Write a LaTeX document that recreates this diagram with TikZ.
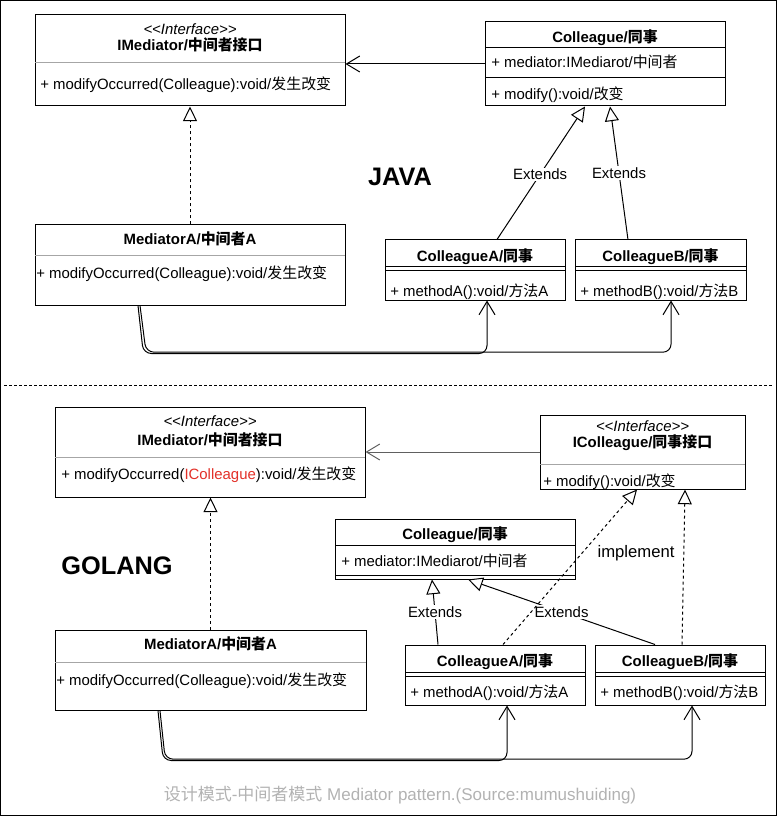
\documentclass[tikz,border=0pt]{standalone}
\usepackage{fontspec}
\setmainfont{Liberation Sans}
\newfontfamily\cjk{Noto Sans CJK SC}
\newcommand{\zh}[1]{{\cjk #1}}
\usepackage{tikz}
\usetikzlibrary{arrows.meta, fit}
\definecolor{typered}{RGB}{226,48,40}
\tikzstyle{classbox} = [draw=black, line width=0.75pt, inner sep=0pt]
\tikzstyle{boxtitle} = [font=\fontsize{11.2}{13}\selectfont\bfseries,
inner sep=0pt, 
text height=8.5pt, 
text depth=1.5pt]
\tikzstyle{stereo} = [font=\fontsize{11.2}{13}\selectfont\itshape,
inner sep=0pt, 
text height=8.5pt, 
text depth=1.5pt]
\tikzstyle{member} = [font=\fontsize{11.2}{13}\selectfont, anchor=west,
inner sep=0pt, 
text height=8.5pt, 
text depth=1.5pt]
\tikzstyle{sepline} = [draw=gray!70, line width=0.75pt]
\tikzstyle{rowline} = [draw=black, line width=0.75pt]
\tikzstyle{assoc} = [line width=0.75pt,-{Straight Barb[length=10pt,width=12pt]}]
\tikzstyle{inherit} = [line width=0.75pt,-{Triangle[fill=white,length=11pt,width=10.5pt]}]
\tikzstyle{realize} = [inherit, dash pattern=on 2.25pt off 2.25pt]
\tikzstyle{extlabel} = [fill=white, inner sep=1pt, font=\fontsize{11.2}{13}\selectfont]
\tikzstyle{langlabel} = [font=\fontsize{19}{22}\selectfont\bfseries]

\begin{document}
\begin{tikzpicture}[x=0.75pt, y=-0.75pt]
        \useasboundingbox (0,0) rectangle (777,816);
        \draw [line width=0.75pt] (0.5,0.5) rectangle (776.5,815.5);

        % JAVA
        \node (jim) [classbox, fit={(35,15) (345,106)}] {};
        \node (jimst) [stereo] at (190,30) {<{}<Interface>{}>};
        \node (jimt) [boxtitle] at (190,46) {IMediator/\zh{中间者接口}};
        \draw [sepline] (35,63) -- (345,63);
        \node (jimm) [member] at (40,85) {+ modifyOccurred(Colleague):void/\zh{发生改变}};

        \node (jcol) [classbox, fit={(485,22) (725,106)}] {};
        \node (jcolt) [boxtitle] at (605,38) {Colleague/\zh{同事}};
        \draw [rowline] (485,48) -- (725,48);
        \node (jcolf) [member] at (491,63) {+ mediator:IMediarot/\zh{中间者}};
        \draw [rowline] (485,78) -- (725,78);
        \node (jcolm) [member] at (491,95) {+ modify():void/\zh{改变}};

        \node (jma) [classbox, fit={(35,225) (345,305)}] {};
        \node (jmat) [boxtitle] at (190,240) {MediatorA/\zh{中间者}A};
        \draw [sepline] (35,256) -- (345,256);
        \node (jmam) [member] at (36,274) {+ modifyOccurred(Colleague):void/\zh{发生改变}};

        \node (jca) [classbox, fit={(385,240) (565,300)}] {};
        \node (jcat) [boxtitle] at (475,257) {ColleagueA/\zh{同事}};
        \draw [rowline] (385,267) -- (565,267);
        \draw [rowline] (385,271) -- (565,271);
        \node (jcam) [member] at (390,292) {+ methodA():void/\zh{方法}A};

        \node (jcb) [classbox, fit={(575,240) (746,300)}] {};
        \node (jcbt) [boxtitle] at (660.5,257) {ColleagueB/\zh{同事}};
        \draw [rowline] (575,267) -- (746,267);
        \draw [rowline] (575,271) -- (746,271);
        \node (jcbm) [member] at (580,292) {+ methodB():void/\zh{方法}B};

        \node (java) [langlabel] at (400,177) {JAVA};

        \draw [assoc] (jcol.west) -- (jcol.west -| jim.east);
        \draw [realize] (jma.north) -- (jim.south);
        \draw [inherit] ([xshift=16.5pt]jca.north) -- node[extlabel, pos=0.49] {Extends} ([xshift=-15pt]jcol.south);
        \draw [inherit] ([xshift=-24.4pt]jcb.north) -- node[extlabel, pos=0.5] {Extends} ([xshift=3.75pt]jcol.south);
        \draw [assoc, rounded corners=6pt] ([xshift=-39pt]jma.south) -- ([xshift=-35pt, yshift=-36pt]jma.south) -| ([xshift=9pt]jca.south);
        \draw [assoc, rounded corners=6pt] ([xshift=-37.5pt]jma.south) -- ([xshift=-33pt, yshift=-35pt]jma.south) -| ([xshift=7.9pt]jcb.south);

        \draw [line width=0.75pt, dash pattern=on 2.25pt off 1.5pt] (4,385) -- (773,385);

        % GOLANG
        \node (gim) [classbox, fit={(55,407) (365,497)}] {};
        \node (gimst) [stereo] at (210,422) {<{}<Interface>{}>};
        \node (gimt) [boxtitle] at (210,441) {IMediator/\zh{中间者接口}};
        \draw [sepline] (55,457) -- (365,457);
        \node (gimm) [member] at (61,475) {+ modifyOccurred(\textcolor{typered}{IColleague}):void/\zh{发生改变}};

        \node (gic) [classbox, fit={(540,415) (745,489)}] {};
        \node (gicst) [stereo] at (642.5,427) {<{}<Interface>{}>};
        \node (gict) [boxtitle] at (642.5,443) {IColleague/\zh{同事接口}};
        \draw [sepline] (540,464) -- (745,464);
        \node (gicm) [member] at (543,482) {+ modify():void/\zh{改变}};

        \node (gcol) [classbox, fit={(335,519) (575,579)}] {};
        \node (gcolt) [boxtitle] at (455,535) {Colleague/\zh{同事}};
        \draw [rowline] (335,545) -- (575,545);
        \node (gcolf) [member] at (341,562) {+ mediator:IMediarot/\zh{中间者}};
        \draw [rowline] (335,575) -- (575,575);

        \node (gma) [classbox, fit={(55,630) (366,710)}] {};
        \node (gmat) [boxtitle] at (210.5,645) {MediatorA/\zh{中间者}A};
        \draw [sepline] (55,662) -- (366,662);
        \node (gmam) [member] at (56,681) {+ modifyOccurred(Colleague):void/\zh{发生改变}};

        \node (gca) [classbox, fit={(405,645) (585,705)}] {};
        \node (gcat) [boxtitle] at (495,662) {ColleagueA/\zh{同事}};
        \draw [rowline] (405,672) -- (585,672);
        \draw [rowline] (405,676) -- (585,676);
        \node (gcam) [member] at (410,693) {+ methodA():void/\zh{方法}A};

        \node (gcb) [classbox, fit={(595,645) (765,705)}] {};
        \node (gcbt) [boxtitle] at (680,662) {ColleagueB/\zh{同事}};
        \draw [rowline] (595,672) -- (765,672);
        \draw [rowline] (595,676) -- (765,676);
        \node (gcbm) [member] at (600,693) {+ methodB():void/\zh{方法}B};

        \node (golang) [langlabel] at (117,566) {GOLANG};
        \node (impl) [font=\fontsize{12.5}{15}\selectfont] at (636,553) {implement};

        \draw [assoc, draw=gray!75!black] (gic.west) -- (gic.west -| gim.east);
        \draw [realize] (gma.north) -- (gma.north |- gim.south);
        \draw [inherit] ([xshift=-42.75pt]gca.north) -- node[extlabel, pos=0.5] {Extends} ([xshift=-17.25pt]gcol.south);
        \draw [inherit] ([xshift=-18.75pt]gcb.north) -- node[extlabel, pos=0.5] {Extends} ([xshift=9.75pt]gcol.south);
        \draw [realize] ([xshift=6pt]gca.north) -- ([xshift=-4.1pt]gic.south);
        \draw [realize] ([xshift=1.5pt]gcb.north) -- ([xshift=31.9pt]gic.south);
        \draw [assoc, rounded corners=6pt] ([xshift=-39.4pt]gma.south) -- ([xshift=-35.5pt, yshift=-37.5pt]gma.south) -| ([xshift=9pt]gca.south);
        \draw [assoc, rounded corners=6pt] ([xshift=-37.9pt]gma.south) -- ([xshift=-34pt, yshift=-36.5pt]gma.south) -| ([xshift=9pt]gcb.south);

        \node (caption) [text=gray!60, font=\fontsize{12.75}{15}\selectfont] at (400,795) {\zh{设计模式}-\zh{中间者模式} Mediator pattern.(Source:mumushuiding)};
    \end{tikzpicture}
\end{document}
